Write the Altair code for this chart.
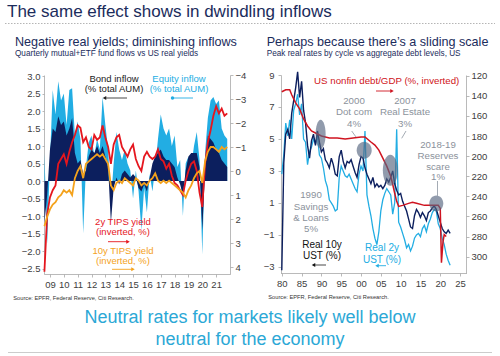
import altair as alt
import pandas as pd

FONT = "Liberation Sans"
NAVY = "#0c1f5e"
LIGHT = "#22ade3"
RED = "#e5161e"
ORANGE = "#f4a21c"
DEBT_RED = "#cf1420"
GREY_TXT = "#8b929b"
TITLE_C = "#1b2c5c"
CYAN = "#2ba8d6"

# ---------------- Left panel: fund flows vs TIPS yields ----------------
flow_years = [2008.6, 2008.8, 2009.0, 2009.2, 2009.4, 2009.6, 2009.8, 2010.0, 2010.2, 2010.4,
              2010.6, 2010.8, 2011.0, 2011.2, 2011.4, 2011.6, 2011.8, 2012.0, 2012.2, 2012.4,
              2012.6, 2012.8, 2013.0, 2013.2, 2013.4, 2013.6, 2013.8, 2014.0, 2014.2, 2014.4,
              2014.6, 2014.8, 2015.0, 2015.2, 2015.4, 2015.6, 2015.8, 2016.0, 2016.2, 2016.4,
              2016.6, 2016.8, 2017.0, 2017.2, 2017.4, 2017.6, 2017.8, 2018.0, 2018.2, 2018.4,
              2018.6, 2018.8, 2019.0, 2019.2, 2019.4, 2019.6, 2019.8, 2020.0, 2020.2, 2020.4,
              2020.6, 2020.8, 2021.0, 2021.2, 2021.4, 2021.6, 2021.8]
equity_inflow = [0.8, -1.8, 0.6, 2.6, 1.9, 2.85, 2.3, 2.5, 1.6, 2.6,
                 2.65, 1.3, 1.7, 1.2, -1.5, 0.4, 1.1, 1.3, 0.7, 1.2,
                 0.9, 2.4, 1.6, 0.9, -0.6, 0.5, 1.4, 0.9, 0.6, 0.9,
                 0.5, 0.3, -0.5, 0.3, -0.3, -1.4, -0.2, -0.9, 0.2, -0.3,
                 0.4, 1.2, 1.9, 1.5, 1.3, 1.5, 1.0, 1.3, 0.4, 0.6,
                 -1.0, 0.5, 0.7, 0.4, 1.0, 1.4, 0.6, -2.1, 0.8, 1.8,
                 2.3, 2.4, 2.2, 2.3, 1.5, 1.3, 1.2]
bond_inflow = [-1.2, -0.4, 0.9, 1.5, 1.4, 1.85, 1.6, 1.7, 1.3, 1.5,
               1.8, 0.8, 0.5, 0.6, 0.2, 0.3, 0.7, 0.9, 0.8, 1.0,
               0.8, 1.0, 0.7, 0.4, -1.2, -0.2, 0.1, -0.1, 0.2, 0.3,
               0.2, 0.1, 0.2, 0.1, -0.2, -0.3, -0.1, -0.3, 0.1, 0.5,
               0.7, 0.8, 0.9, 0.7, 0.6, 0.6, 0.5, 0.4, 0.1, -0.1,
               -0.4, 0.3, 0.7, 0.8, 0.8, 0.8, 0.4, -1.4, 0.3, 1.3,
               1.2, 1.1, 0.9, 0.8, 0.6, 0.5, 0.4]
tips_2y = [4.2, 1.8, 1.1, 0.8, 0.6, -0.3, -0.5, -0.7, -0.3, -0.8,
           -1.2, -1.5, -1.9, -1.8, -1.2, -1.4, -1.0, -0.9, -1.5, -1.3,
           -1.4, -1.9, -1.4, -1.0, -0.3, -1.1, -1.4, -1.5, -1.0, -0.8,
           -0.6, -0.9, -1.1, -0.5, -0.2, 0.0, -0.6, -0.8, -0.6, -0.5,
           -0.6, -0.9, -0.5, -0.4, -0.1, -0.3, 0.2, 0.5, 0.6, 0.8,
           1.0, 0.4, 0.0, -0.3, -0.4, 0.0, 0.9, 1.5, -0.3, -1.2,
           -1.7, -2.3, -2.7, -2.4, -2.6, -2.3, -2.4]
tips_10y = [2.3, 1.9, 1.6, 1.4, 1.3, 1.1, 1.0, 0.8, 0.9, 0.8,
            1.0, 0.3, 0.0, -0.2, 0.3, -0.3, -0.4, -0.5, -0.6, -0.7,
            -0.6, -0.7, -0.5, -0.3, 0.6, 0.8, 0.5, 0.4, 0.5, 0.3,
            0.4, 0.5, 0.6, 0.3, 0.4, 0.6, 0.5, 0.6, 0.4, 0.3,
            0.1, 0.4, 0.5, 0.4, 0.5, 0.4, 0.5, 0.6, 0.7, 0.8,
            0.9, 1.1, 0.8, 0.6, 0.3, 0.1, 0.0, 0.5, -0.4, -0.8,
            -1.0, -1.0, -0.9, -0.8, -1.0, -0.9, -1.0]
flow_year_ticks = [2009, 2010, 2011, 2012, 2013, 2014, 2015, 2016, 2017, 2018, 2019, 2020, 2021]
flow_ticks = [-2.5, -2.0, -1.5, -1.0, -0.5, 0.0, 0.5, 1.0, 1.5, 2.0, 2.5, 3.0]
tips_ticks = [-4, -3, -2, -1, 0, 1, 2, 3, 4]

# ---------------- Right panel: real rates vs debt/GDP ----------------
rate_years = [1980.0, 1980.5, 1981.0, 1981.5, 1982.0, 1982.5, 1983.0, 1983.5, 1984.0, 1984.5,
              1985.0, 1985.5, 1986.0, 1986.5, 1987.0, 1987.5, 1988.0, 1988.5, 1989.0, 1989.5,
              1990.0, 1990.5, 1991.0, 1991.5, 1992.0, 1992.5, 1993.0, 1993.5, 1994.0, 1994.5,
              1995.0, 1995.5, 1996.0, 1996.5, 1997.0, 1997.5, 1998.0, 1998.5, 1999.0, 1999.5,
              2000.0, 2000.5, 2001.0, 2001.5, 2002.0, 2002.5, 2003.0, 2003.5, 2004.0, 2004.5,
              2005.0, 2005.5, 2006.0, 2006.5, 2007.0, 2007.5, 2008.0, 2008.5, 2009.0, 2009.5,
              2010.0, 2010.5, 2011.0, 2011.5, 2012.0, 2012.5, 2013.0, 2013.5, 2014.0, 2014.5,
              2015.0, 2015.5, 2016.0, 2016.5, 2017.0, 2017.5, 2018.0, 2018.5, 2019.0, 2019.5,
              2020.0, 2020.5, 2021.0, 2021.5, 2022.0, 2022.5]
real_10y = [-3.2, 3.5, 5.3, 5.6, 5.0, 6.6, 7.4, 8.2, 9.2, 7.6,
            8.6, 6.8, 6.0, 4.6, 3.8, 4.9, 5.3, 4.6, 5.5, 4.8,
            4.2, 4.4, 3.7, 3.5, 3.2, 3.8, 3.4, 2.8, 2.7, 3.9,
            4.3, 3.6, 3.2, 3.6, 3.5, 3.7, 3.3, 2.9, 2.6, 3.4,
            3.9, 3.8, 3.2, 2.8, 2.5, 2.2, 2.6, 2.0, 2.2, 2.0,
            2.1, 1.9, 2.1, 2.5, 2.3, 2.6, 3.0, 2.2, 1.8, 1.5,
            1.6, 1.1, 0.8, 0.5, 0.0, -0.5, -0.6, 0.2, 0.6, 0.4,
            0.1, 0.4, 0.2, -0.1, 0.4, 0.5, 0.7, 0.8, 0.6, 0.2,
            -0.2, -0.6, -0.8, -0.9, -0.7, -0.9]
real_2y = [2.8, 4.0, 6.0, 5.2, 6.2, 5.0, 6.8, 7.2, 7.8, 6.5,
           7.2, 5.0, 4.8, 3.4, 4.2, 4.5, 5.0, 4.7, 5.2, 4.0,
           3.8, 3.2, 2.4, 2.0, 1.2, 1.0, 0.8, 0.5, 0.6, 2.6,
           3.3, 3.0, 2.7, 2.6, 2.8, 2.5, 2.2, 1.9, 1.7, 2.8,
           3.3, 3.0, 5.5, 1.5, 0.8, 0.2, -0.6, -1.2, -1.6, -0.8,
           0.5, 1.2, 1.6, 1.9, 1.7, 1.5, 0.3, 1.0, 5.6, -0.2,
           -0.5, -0.9, -1.3, -1.8, -1.6, -2.0, -1.7, -1.2, -1.0, -0.9,
           -1.1, -0.6, -0.4, -0.8, -0.3, 0.0, 0.4, 0.6, 0.5, -0.3,
           -0.6, -1.2, -1.6, -2.2, -2.6, -2.9]
debt_years = [1980.0, 1981.0, 1982.0, 1982.5, 1983.5, 1984.5, 1985.5, 1986.5, 1987.5, 1988.5,
              1990.0, 1992.0, 1994.0, 1996.0, 1998.0, 2000.0, 2001.0, 2002.5, 2003.5, 2004.5,
              2005.5, 2006.5, 2007.5, 2008.0, 2008.5, 2009.0, 2009.5, 2010.5, 2012.0, 2013.0,
              2014.0, 2016.0, 2018.0, 2019.5, 2020.0, 2020.3, 2020.7, 2021.0, 2021.5]
debt_gdp = [136, 134, 134, 139, 147, 153, 163, 170, 175, 177,
            180, 182, 182, 183, 182, 181, 181, 186, 189, 194,
            202, 210, 220, 228, 237, 245, 250, 249, 247, 246,
            247, 249, 249, 249, 252, 306, 285, 278, 280]
episode_years = [1989.8, 2000.8, 2007.4, 2019.0]
episode_rates = [5.3, 4.3, 3.05, 0.97]
rate_year_ticks = [1980, 1985, 1990, 1995, 2000, 2005, 2010, 2015, 2020, 2025]
rate_ticks = [-3, -1, 1, 3, 5, 7, 9]
debt_ticks = [120, 140, 160, 180, 200, 220, 240, 260, 280, 300]

flows = pd.DataFrame({"year": flow_years, "equity": equity_inflow, "bond": bond_inflow,
                      "tips2": tips_2y, "tips10": tips_10y})
rates = pd.DataFrame({"year": rate_years, "r10": real_10y, "r2": real_2y})
debt = pd.DataFrame({"year": debt_years, "debt": debt_gdp})
episodes = pd.DataFrame({"year": episode_years, "rate": episode_rates})

# ---------------- scales (pixel ranges place each panel) ----------------
LX = alt.Scale(domain=[2008.57, 2022.0], range=[44, 230], nice=False, zero=False)
LY = alt.Scale(domain=[-2.66, 3.03], range=[274.1, 75], nice=False, zero=False)
LY2 = alt.Scale(domain=[-4, 4.3], range=[75, 274.2], nice=False, zero=False)
RX = alt.Scale(domain=[1979.8, 2026.5], range=[281, 466], nice=False, zero=False)
RY = alt.Scale(domain=[-3.41, 9.0], range=[273.5, 75], nice=False, zero=False)
RY2 = alt.Scale(domain=[119.3, 316.8], range=[75, 273.5], nice=False, zero=False)


def ax(**kw):
    base = dict(title=None, grid=False, labelFont=FONT, labelFontSize=9.5, labelColor="#404040",
                domainColor="#a8a8a8", tickColor="#a8a8a8", domainWidth=0.8, tickWidth=0.8,
                labelFlush=False, labelOverlap=False)
    base.update(kw)
    return alt.Axis(**base)


YEAR2 = "substring(toString(datum.value), 2, 4)"
layers = []

fb = alt.Chart(flows)
layers.append(fb.mark_area(color=LIGHT).encode(
    x=alt.X("year:Q", scale=LX, axis=ax(orient="bottom", offset=-82, values=flow_year_ticks,
                                        labelExpr=YEAR2, tickSize=3, labelPadding=2)),
    y=alt.Y("equity:Q", scale=LY, axis=ax(orient="left", offset=-44, values=flow_ticks,
                                          format=".1f", tickSize=2, labelPadding=2)),
    y2=alt.datum(0)))
layers.append(fb.mark_area(color=NAVY).encode(
    x=alt.X("year:Q", scale=LX, axis=None),
    y=alt.Y("bond:Q", scale=LY, axis=None),
    y2=alt.datum(0)))
layers.append(fb.mark_line(color=RED, strokeWidth=1.8).encode(
    x=alt.X("year:Q", scale=LX, axis=None),
    y=alt.Y("tips2:Q", scale=LY2, axis=ax(orient="right", offset=-270, values=tips_ticks,
                                          format="d", tickSize=3, labelPadding=2))))
layers.append(fb.mark_line(color=ORANGE, strokeWidth=1.8).encode(
    x=alt.X("year:Q", scale=LX, axis=None),
    y=alt.Y("tips10:Q", scale=LY2, axis=None)))

rb = alt.Chart(rates)
layers.append(rb.mark_line(color=LIGHT, strokeWidth=1.3).encode(
    x=alt.X("year:Q", scale=RX, axis=ax(orient="bottom", offset=-83, values=rate_year_ticks,
                                        labelExpr=YEAR2, tickSize=3, labelPadding=2)),
    y=alt.Y("r2:Q", scale=RY, axis=ax(orient="left", offset=-281, values=rate_ticks,
                                      format="d", tickSize=3, labelPadding=4))))
layers.append(rb.mark_line(color=NAVY, strokeWidth=1.4).encode(
    x=alt.X("year:Q", scale=RX, axis=None),
    y=alt.Y("r10:Q", scale=RY, axis=None)))
layers.append(alt.Chart(debt).mark_line(color=DEBT_RED, strokeWidth=1.5).encode(
    x=alt.X("year:Q", scale=RX, axis=None),
    y=alt.Y("debt:Q", scale=RY2, axis=ax(orient="right", offset=-34, values=debt_ticks,
                                         format="d", tickSize=3, labelPadding=2))))

# grey ellipses marking each cycle's peak real rate (bezier ellipse symbol)
ellipse_dims = [(10, 29), (15, 17), (15, 31), (14, 16)]
K = 0.5523
for i, (w, h) in enumerate(ellipse_dims):
    r = w / h
    kr = K * r
    path = (f"M {r:.3f} 0 C {r:.3f} {K} {kr:.3f} 1 0 1 "
            f"C {-kr:.3f} 1 {-r:.3f} {K} {-r:.3f} 0 "
            f"C {-r:.3f} {-K} {-kr:.3f} -1 0 -1 "
            f"C {kr:.3f} -1 {r:.3f} {-K} {r:.3f} 0 Z")
    layers.append(alt.Chart(episodes.iloc[[i]]).mark_point(
        shape=path, size=h * h, filled=True, color="#56667f", opacity=0.65, strokeWidth=0).encode(
        x=alt.X("year:Q", scale=RX, axis=None),
        y=alt.Y("rate:Q", scale=RY, axis=None)))


def one():
    return pd.DataFrame({"k": [0]})


def text(t, x, y, color, size=9.5, align="center", lh=10.0):
    return alt.Chart(one()).mark_text(
        text=t, font=FONT, fontSize=size, color=color, align=align, baseline="alphabetic",
        lineBreak="\n", lineHeight=lh).encode(x=alt.value(x), y=alt.value(y))


def rule(x1, x2, y1, y2, color, width=0.9, dash=None):
    kw = dict(color=color, strokeWidth=width)
    if dash:
        kw["strokeDash"] = dash
    return alt.Chart(one()).mark_rule(**kw).encode(
        x=alt.value(x1), x2=alt.value(x2), y=alt.value(y1), y2=alt.value(y2))


def head(x, y, shape, color, size=16):
    return alt.Chart(one()).mark_point(shape=shape, size=size, filled=True, color=color,
                                       opacity=1).encode(x=alt.value(x), y=alt.value(y))


# titles
layers.append(text("The same effect shows in dwindling inflows", 7, 17.3, TITLE_C, 17, "left"))
layers.append(rule(5, 495, 23.5, 23.5, "#b5b5b5", 1, [1.5, 1.5]))
layers.append(text("Negative real yields; diminishing inflows", 15, 45.7, TITLE_C, 12.6, "left"))
layers.append(text("Quarterly mutual+ETF fund flows vs US real yields", 15, 55.5, TITLE_C, 8.2, "left"))
layers.append(text("Perhaps because there\u2019s a sliding scale", 266.7, 45.7, TITLE_C, 12.6, "left"))
layers.append(text("Peak real rates by cycle vs aggregate debt levels, US", 266.7, 55.5, TITLE_C, 8.2, "left"))

# left annotations
layers.append(text("Bond inflow\n(% total AUM)", 114, 81.7, "#222222"))
layers.append(rule(106, 127, 98, 98, "#333333"))
layers.append(head(104.5, 98, "triangle-left", "#222222"))
layers.append(text("Equity inflow\n(% total AUM)", 179, 81.7, LIGHT))
layers.append(rule(172, 193, 98, 98, LIGHT))
layers.append(head(172.5, 98, "circle", LIGHT, 12))
layers.append(text("2y TIPS yield\n(inverted, %)", 123, 225.1, RED))
layers.append(rule(108, 127, 241.7, 241.7, RED))
layers.append(head(128, 241.7, "triangle-right", RED))
layers.append(text("10y TIPS yield\n(inverted, %)", 123, 254.4, ORANGE))
layers.append(rule(112, 132, 269.3, 269.3, ORANGE))
layers.append(head(133, 269.3, "triangle-right", ORANGE))

# right annotations
layers.append(text("US nonfin debt/GDP (%, inverted)", 386.7, 84.4, DEBT_RED, 9.7))
layers.append(rule(376, 391, 91, 91, DEBT_RED))
layers.append(head(392, 91, "triangle-right", DEBT_RED))
layers.append(text("2000\nDot com\n4%", 354, 103.7, GREY_TXT, 9.7, lh=11.7))
layers.append(rule(351.7, 356, 131, 137, "#9aa2ac"))
layers.append(text("2007\nReal Estate\n3%", 405, 103.7, GREY_TXT, 9.7, lh=11.7))
layers.append(rule(406, 401.7, 131, 138.3, "#9aa2ac"))
layers.append(text("2018-19\nReserves\nscare\n1%", 438, 148.4, GREY_TXT, 9.7, lh=10.7))
layers.append(rule(437.5, 437.5, 181, 196, "#9aa2ac"))
layers.append(text("1990\nSavings\n& Loans\n5%", 311, 198.4, GREY_TXT, 9.7, lh=11.3))
layers.append(text("Real 10y\nUST (%)", 322, 247.6, "#111111", 10, lh=11))
layers.append(rule(315, 326, 265, 265, "#333333"))
layers.append(head(313.5, 265, "triangle-left", "#111111"))
layers.append(text("Real 2y\nUST (%)", 382, 251.3, LIGHT, 10, lh=11.3))
layers.append(rule(378, 386, 265.7, 265.7, LIGHT))
layers.append(head(377, 265.7, "triangle-left", LIGHT))

# sources and footer
layers.append(text("Source: EPFR, Federal Reserve, Citi Research.", 13.3, 299.7, "#333333", 5.7, "left"))
layers.append(text("Source: EPFR, Federal Reserve, Citi Research.", 268.3, 299.3, "#333333", 5.7, "left"))
layers.append(text("Neutral rates for markets likely well below\nneutral for the economy", 250, 323.3,
                   CYAN, 18, lh=21.5))
layers.append(rule(8, 492, 352.5, 352.5, "#cccccc", 1))

chart = alt.layer(*layers).resolve_scale(x="independent", y="independent").properties(
    width=500, height=356, autosize=alt.AutoSizeParams(type="none"), padding=0,
    background="white",
).configure_view(stroke=None)

chart.save("out.html", embed_options={"renderer": "svg", "actions": False})
